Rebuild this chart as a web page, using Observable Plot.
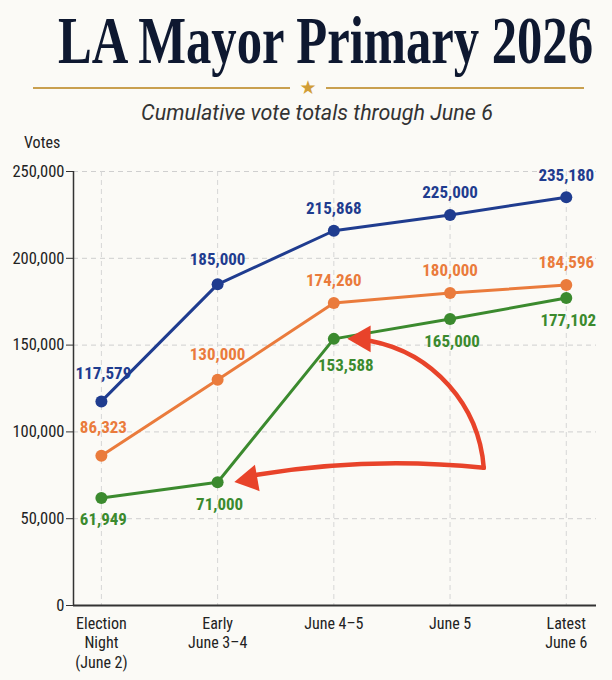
<!DOCTYPE html>
<html>
<head>
<meta charset="utf-8">
<script src="https://cdn.jsdelivr.net/npm/d3@7"></script>
<script src="https://cdn.jsdelivr.net/npm/@observablehq/plot@0.6"></script>
<style>
  html, body { margin: 0; padding: 0; background: #fbfaf6; }
  #wrap { width: 612px; height: 680px; overflow: hidden; position: relative; }
  svg { display: block; }
  #titleText {
    position: absolute; left: 58px; top: 6px; display: block;
    font-family: 'Liberation Serif', 'DejaVu Serif', serif; font-weight: bold;
    font-size: 68px; line-height: 68px; color: #0e1830; white-space: nowrap;
    transform-origin: 0 0;
  }
  #votes {
    position: absolute; left: 24px; top: 134px;
    font-family: 'Liberation Sans Narrow', 'Roboto Condensed', Roboto, sans-serif;
    font-size: 16px; line-height: 18px; color: #222;
  }
</style>
</head>
<body>
<div id="wrap">
  <svg id="header" width="612" height="128">
    <line x1="33" x2="290" y1="88" y2="88" stroke="#c9a04f" stroke-width="2"></line>
    <line x1="326" x2="584" y1="88" y2="88" stroke="#c9a04f" stroke-width="2"></line>
    <text x="308" y="94" text-anchor="middle" style="font-family:'DejaVu Sans';font-size:19px;fill:#d19d36;">★</text>
    <text x="317" y="120" text-anchor="middle"
      style="font-family:Roboto,'Open Sans',sans-serif;font-style:italic;font-size:21.5px;fill:#333;">Cumulative vote totals through June 6</text>
  </svg>
  <span id="titleText">LA Mayor Primary 2026</span>
  <div id="votes">Votes</div>
  <div id="chart"></div>
</div>
<script>
// ---- data ----
const categories = ["Election\nNight\n(June 2)", "Early\nJune 3–4", "June 4–5", "June 5", "Latest\nJune 6"];
const seriesNames = ["Series A", "Series B", "Series C"];
const seriesColors = ["#1f3c8f", "#ea7b3c", "#3b8a2e"];
const votesA = [117579, 185000, 215868, 225000, 235180];
const votesB = [86323, 130000, 174260, 180000, 184596];
const votesC = [61949, 71000, 153588, 165000, 177102];
const yTicks = [0, 50000, 100000, 150000, 200000, 250000];
const xDomain = [-0.24, 4.26];
// annotation arrows (start between June 5 and Latest, ~79k votes)
const arrowStart = {x: 3.29, y: 79300};
const arrowTargets = [{x: 2, y: 153588}, {x: 1, y: 71000}];

// ---- fit the title to the reference width ----
(function () {
  const span = document.getElementById("titleText");
  const w = span.getBoundingClientRect().width;
  const s = 535 / w;
  span.style.transform = `scaleX(${s})`;
})();

// ---- build table ----
const seriesValues = [votesA, votesB, votesC];
const rows = [];
seriesNames.forEach((s, k) => seriesValues[k].forEach((v, i) => rows.push({series: s, i, votes: v})));
const fmt = d3.format(",");
const red = "#e8432a";
const condensed = "'Liberation Sans Narrow','Roboto Condensed',Roboto,sans-serif";

const arrow1 = [{x1: arrowStart.x, y1: arrowStart.y, x2: arrowTargets[0].x, y2: arrowTargets[0].y}];
const arrow2 = [{x1: arrowStart.x, y1: arrowStart.y, x2: arrowTargets[1].x, y2: arrowTargets[1].y}];
const third = seriesNames[2];
const labelOpts = {x: "i", y: "votes", text: d => fmt(d.votes), fill: "series", fontSize: 17, fontWeight: "bold"};

const chart = Plot.plot({
  width: 612,
  height: 552,
  marginLeft: 73,
  marginRight: 16,
  marginTop: 43,
  marginBottom: 75,
  style: {background: "transparent", fontFamily: condensed, fontSize: "16px", color: "#222"},
  x: {domain: xDomain},
  y: {domain: [0, 250000]},
  color: {domain: seriesNames, range: seriesColors},
  marks: [
    Plot.gridY(yTicks, {stroke: "#cfcfcf", strokeOpacity: 1, strokeDasharray: "5,4"}),
    Plot.gridX(d3.range(categories.length), {stroke: "#d6d6d6", strokeOpacity: 1, strokeDasharray: "5,4"}),
    Plot.axisY(yTicks, {tickFormat: fmt, tickSize: 7, tickPadding: 2, fontSize: 16.5, stroke: "#333", fill: "#222", label: null}),
    Plot.axisX(d3.range(categories.length), {tickFormat: i => categories[i], tickSize: 0, tickPadding: 10, lineHeight: 1.2, fontSize: 16, fill: "#222", label: null}),
    Plot.ruleX([xDomain[0]], {stroke: "#333", strokeWidth: 1.5}),
    Plot.ruleY([0], {stroke: "#333", strokeWidth: 2}),
    Plot.line(rows, {x: "i", y: "votes", z: "series", stroke: "series", strokeWidth: 3}),
    Plot.dot(rows, {x: "i", y: "votes", fill: "series", r: 6}),
    Plot.arrow(arrow1, {x1: "x1", y1: "y1", x2: "x2", y2: "y2", bend: -45, stroke: red, strokeWidth: 4.5, headLength: 0, insetEnd: 37}),
    Plot.arrow(arrow2, {x1: "x1", y1: "y1", x2: "x2", y2: "y2", bend: -9, stroke: red, strokeWidth: 4.5, headLength: 0, insetEnd: 40}),
    Plot.dot([arrowTargets[0]], {x: "x", y: "y", symbol: "triangle", r: 10, rotate: -90, fill: red, dx: 29, dy: 0}),
    Plot.dot([arrowTargets[1]], {x: "x", y: "y", symbol: "triangle", r: 10, rotate: -100, fill: red, dx: 32, dy: -3}),
    Plot.text(rows.filter(d => d.series !== third && d.i === 0), {...labelOpts, dx: 2, dy: -28}),
    Plot.text(rows.filter(d => d.series !== third && d.i === 1), {...labelOpts, dy: -25}),
    Plot.text(rows.filter(d => d.series !== third && d.i > 1), {...labelOpts, dy: -22}),
    Plot.text(rows.filter(d => d.series === third && d.i !== 2), {...labelOpts, dx: 2, dy: 22}),
    Plot.text(rows.filter(d => d.series === third && d.i === 2), {...labelOpts, dx: 12, dy: 27})
  ]
});
document.getElementById("chart").appendChild(chart);
</script>
</body>
</html>
